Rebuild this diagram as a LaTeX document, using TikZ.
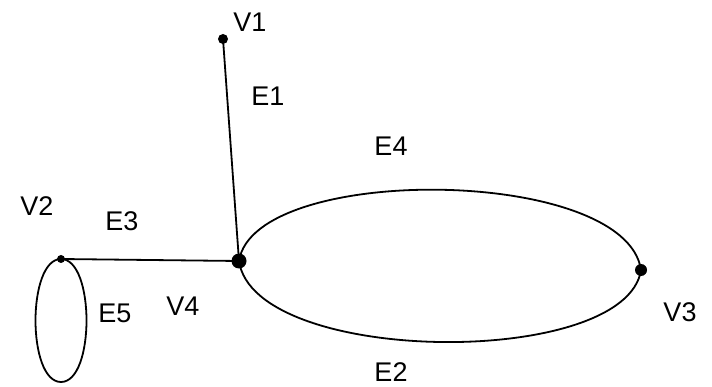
\documentclass[tikz,border=0pt]{standalone}
\usepackage{fontspec}
\setmainfont{Liberation Sans}
\begin{document}
\begin{tikzpicture}[x=1pt,y=-1pt,
  edge/.style={line width=1.8pt},
  vtx/.style={circle,fill=black,inner sep=0pt},
  lbl/.style={font=\fontsize{27}{27}\selectfont,inner sep=0pt}]
\useasboundingbox (0,0) rectangle (712,387);
\node[vtx,minimum size=10pt] (v1) at (223,39) {};
\node[vtx,minimum size=15pt] (v4) at (239,261) {};
\node[vtx,minimum size=8pt] (v2) at (61,259) {};
\node[vtx,minimum size=12pt] (v3) at (641,270) {};
\draw[edge] (v1.center) -- (v4.center);
\draw[edge] (v2.center) -- (v4.center);
\draw[edge] (v4.center) .. controls (254,163) and (626,166) .. (v3.center);
\draw[edge] (v4.center) .. controls (254,366) and (626,369) .. (v3.center);
\draw[edge] (v2.center) .. controls (27,259) and (27,382) .. (61,382) coordinate (b5)
  .. controls (95,382) and (95,259) .. (v2.center);
\node[lbl] (lv1) at (250,22) {V1};
\node[lbl] (le1) at (268,96) {E1};
\node[lbl] (le4) at (391,146) {E4};
\node[lbl] (lv2) at (37,206) {V2};
\node[lbl] (le3) at (122,221) {E3};
\node[lbl] (le5) at (115,313) {E5};
\node[lbl] (lv4) at (183,306) {V4};
\node[lbl] (lv3) at (680,312) {V3};
\node[lbl] (le2) at (391,372) {E2};
\end{tikzpicture}
\end{document}
